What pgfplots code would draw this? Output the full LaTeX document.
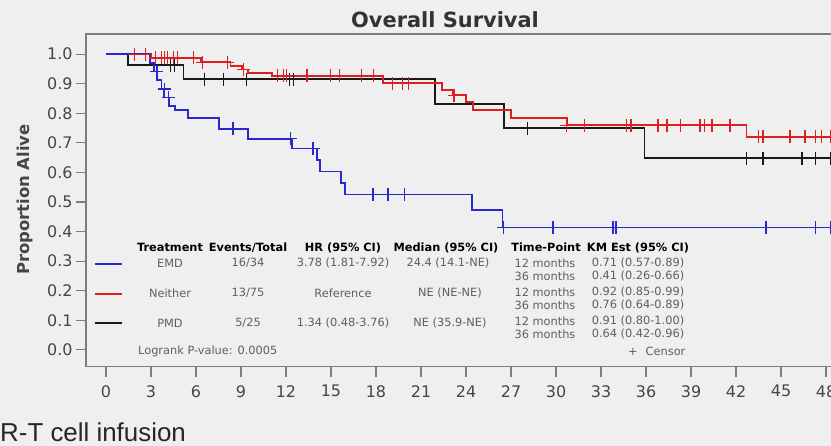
\documentclass[border=0pt]{standalone}
\usepackage{pgfplots}
\pgfplotsset{compat=1.18}
\usepackage{fontspec}
\setmainfont{DejaVu Sans}
\newfontfamily\footfont{Liberation Sans}
\definecolor{bg}{RGB}{239,239,239}
\definecolor{kmred}{RGB}{218,32,32}
\definecolor{kmblue}{RGB}{40,40,205}
\definecolor{kmblack}{RGB}{25,25,25}
\definecolor{axgray}{RGB}{125,125,125}
\definecolor{txt}{RGB}{70,70,70}
\definecolor{tbl}{RGB}{95,95,95}
\begin{document}
\begin{tikzpicture}
\clip (0,0) rectangle (831bp,446bp);
\fill[bg] (0,0) rectangle (831bp,446bp);
\begin{axis}[
  at={(86bp,79.3bp)}, anchor=south west,
  scale only axis, width=760bp, height=332.7bp,
  xmin=-1.333, xmax=49.333, ymin=-0.057, ymax=1.068,
  axis line style={axgray, line width=1.2bp},
  tick pos=left, tick align=outside, major tick length=10bp,
  tick style={axgray, line width=1.2bp},
  xtick={0,3,6,9,12,15,18,21,24,27,30,33,36,39,42,45,48},
  ytick={0,0.1,0.2,0.3,0.4,0.5,0.6,0.7,0.8,0.9,1.0},
  /pgf/number format/assume math mode=true,
  yticklabel style={/pgf/number format/fixed, /pgf/number format/fixed zerofill, /pgf/number format/precision=1},
  ticklabel style={font=\fontsize{16}{18}\selectfont, text=txt},
  xticklabel style={yshift=-5bp},
  clip=false,
]
\addplot[const plot, kmblack, line width=1.8bp] coordinates {
 (0,1) (1.49,0.963) (5.17,0.915) (21.92,0.832) (26.53,0.749) (35.9,0.648) (49.4,0.648)};
\addplot[const plot, kmred, line width=1.8bp] coordinates {
 (0,1) (3.01,0.987) (6.34,0.973) (8.30,0.960) (9.09,0.948) (9.48,0.937) (11.05,0.926)
 (18.49,0.901) (22.41,0.878) (23.10,0.861) (23.98,0.839) (24.47,0.810) (27.02,0.783)
 (30.74,0.759) (42.7,0.720) (49.4,0.720)};
\addplot[const plot, kmblue, line width=1.8bp] coordinates {
 (0,1) (2.91,0.971) (3.21,0.941) (3.40,0.912) (3.70,0.882) (3.89,0.853) (4.19,0.824)
 (4.58,0.810) (5.46,0.784) (7.52,0.748) (9.48,0.714) (12.42,0.681) (14.08,0.642)
 (14.28,0.603) (15.65,0.564) (15.95,0.525) (24.4,0.473) (26.43,0.414) (49.4,0.414)};
% censor marks
\addplot[only marks, mark=+, mark size=6.5bp, kmblack, line width=1.1bp] coordinates {
 (4.28,0.963) (4.58,0.963) (6.54,0.915) (7.81,0.915) (9.38,0.915) (12.22,0.915) (12.52,0.915)
 (28.1,0.749) (42.7,0.648) (43.8,0.648) (46.4,0.648) (47.3,0.648) (48.3,0.648)};
\addplot[only marks, mark=+, mark size=6.5bp, kmred, line width=1.1bp] coordinates {
 (1.93,1) (2.62,1) (3.30,0.987) (3.70,0.987) (3.89,0.987) (4.09,0.987) (4.48,0.987)
 (4.78,0.987) (5.85,0.987) (6.44,0.973) (8.11,0.973) (9.19,0.948) (11.45,0.926)
 (11.83,0.926) (12.03,0.926) (13.4,0.926) (14.97,0.926) (15.56,0.926) (17.04,0.926)
 (17.82,0.926) (19.1,0.901) (19.78,0.901) (20.17,0.901) (23.2,0.861) (30.7,0.759)
 (31.9,0.759) (34.7,0.759) (35.0,0.759) (36.8,0.759) (37.4,0.759) (38.3,0.759)
 (39.6,0.759) (39.9,0.759) (40.4,0.759) (41.6,0.759) (43.5,0.720) (43.8,0.720)
 (45.6,0.720) (46.6,0.720) (47.3,0.720) (47.7,0.720) (48.3,0.720)};
\addplot[only marks, mark=+, mark size=6.5bp, kmblue, line width=1.1bp] coordinates {
 (3.40,0.941) (3.89,0.882) (4.19,0.853) (8.47,0.748) (12.27,0.714) (13.8,0.681)
 (17.8,0.525) (18.8,0.525) (19.9,0.525) (26.5,0.414) (29.8,0.414) (33.8,0.414)
 (34.0,0.414) (44.0,0.414) (47.3,0.414) (48.3,0.414)};
\end{axis}
% title and y label
\node[font=\bfseries\fontsize{21}{24}\selectfont, text=black!80] at (445bp,426bp) {Overall Survival};
\node[font=\bfseries\fontsize{16.5}{19}\selectfont, text=txt, rotate=90] at (25bp,246.5bp) {Proportion Alive};
% legend table
\begin{scope}[every node/.style={font=\fontsize{11.4}{13}\selectfont, text=tbl, inner sep=0pt}]
\draw[kmblue, line width=1.8bp] (95bp,182bp) -- (122bp,182bp);
\draw[kmred, line width=1.8bp] (95bp,152bp) -- (122bp,152bp);
\draw[kmblack, line width=1.8bp] (95bp,123bp) -- (122bp,123bp);
\node[font=\bfseries\fontsize{11.4}{13}\selectfont, text=black] at (170bp,198.5bp) {Treatment};
\node[font=\bfseries\fontsize{11.4}{13}\selectfont, text=black] at (248bp,198.5bp) {Events/Total};
\node[font=\bfseries\fontsize{11.4}{13}\selectfont, text=black] at (343bp,198.5bp) {HR (95\% CI)};
\node[font=\bfseries\fontsize{11.4}{13}\selectfont, text=black] at (446bp,198.5bp) {Median (95\% CI)};
\node[font=\bfseries\fontsize{11.4}{13}\selectfont, text=black] at (546bp,198.5bp) {Time-Point};
\node[font=\bfseries\fontsize{11.4}{13}\selectfont, text=black] at (638bp,198.5bp) {KM Est (95\% CI)};
\node at (170bp,183bp) {EMD};
\node at (170bp,153bp) {Neither};
\node at (170bp,123bp) {PMD};
\node at (248bp,183bp) {16/34};
\node at (248bp,153bp) {13/75};
\node at (248bp,123bp) {5/25};
\node at (343bp,183bp) {3.78 (1.81-7.92)};
\node at (343bp,153bp) {Reference};
\node at (343bp,123bp) {1.34 (0.48-3.76)};
\node at (448bp,183bp) {24.4 (14.1-NE)};
\node at (450bp,153bp) {NE (NE-NE)};
\node at (450bp,123bp) {NE (35.9-NE)};
\node at (545bp,183bp) {12 months};
\node at (545bp,170bp) {36 months};
\node at (545bp,154bp) {12 months};
\node at (545bp,141bp) {36 months};
\node at (545bp,125bp) {12 months};
\node at (545bp,112bp) {36 months};
\node at (638bp,183bp) {0.71 (0.57-0.89)};
\node at (638bp,170bp) {0.41 (0.26-0.66)};
\node at (638bp,154bp) {0.92 (0.85-0.99)};
\node at (638bp,141bp) {0.76 (0.64-0.89)};
\node at (638bp,125bp) {0.91 (0.80-1.00)};
\node at (638bp,112bp) {0.64 (0.42-0.96)};
\node[anchor=west] at (138bp,94.5bp) {Logrank P-value: 0.0005};
\node[anchor=west] at (628bp,94.5bp) {+\hspace{8bp}Censor};
\end{scope}
% footer
\node[anchor=base west, inner sep=0pt, font=\footfont\fontsize{26}{29}\selectfont, text=black!85] at (0bp,4.3bp) {R-T cell infusion};
\end{tikzpicture}
\end{document}
